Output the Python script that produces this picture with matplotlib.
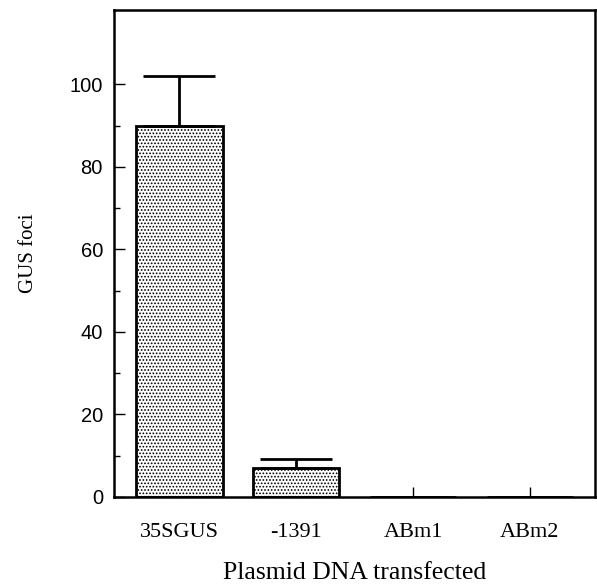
import matplotlib.pyplot as plt

# Data
constructs = ['35SGUS', '-1391', 'ABm1', 'ABm2']
foci = [90, 7, 0, 0]
err_up = [12, 2.2, 0, 0]

plt.rcParams['hatch.color'] = '#444444'
plt.rcParams['hatch.linewidth'] = 0.8

fig = plt.figure(figsize=(5.97, 5.84), dpi=100)
ax = fig.add_axes([0.191, 0.149, 0.806, 0.834])

x = range(len(constructs))
ax.bar(x, foci, width=0.74, facecolor='white', edgecolor='black',
       linewidth=2, hatch='.....', zorder=2)
ax.errorbar(x, foci, yerr=[[0] * len(foci), err_up], fmt='none',
            ecolor='black', elinewidth=2, capsize=26, capthick=2, zorder=3)

ax.set_xlim(-0.56, 3.56)
ax.set_ylim(0, 118)
ax.set_yticks([0, 20, 40, 60, 80, 100])
ax.set_yticks(range(10, 100, 20), minor=True)
ax.set_xticks(list(x))
ax.set_xticklabels(constructs, family='Liberation Serif', fontsize=16)
for lab in ax.get_yticklabels():
    lab.set_family('Liberation Sans')
    lab.set_fontsize(14.5)

ax.tick_params(axis='y', which='major', direction='in', length=8, width=1, pad=8)
ax.tick_params(axis='y', which='minor', direction='in', length=4, width=1)
ax.tick_params(axis='x', direction='in', length=7, width=1, pad=19)

for s in ax.spines.values():
    s.set_linewidth(1.8)

ax.set_ylabel('GUS foci', family='Liberation Serif', fontsize=15, labelpad=23)
ax.set_xlabel('Plasmid DNA transfected', family='Liberation Serif', fontsize=18.5, labelpad=14)

fig.savefig('out.png', dpi=100)
